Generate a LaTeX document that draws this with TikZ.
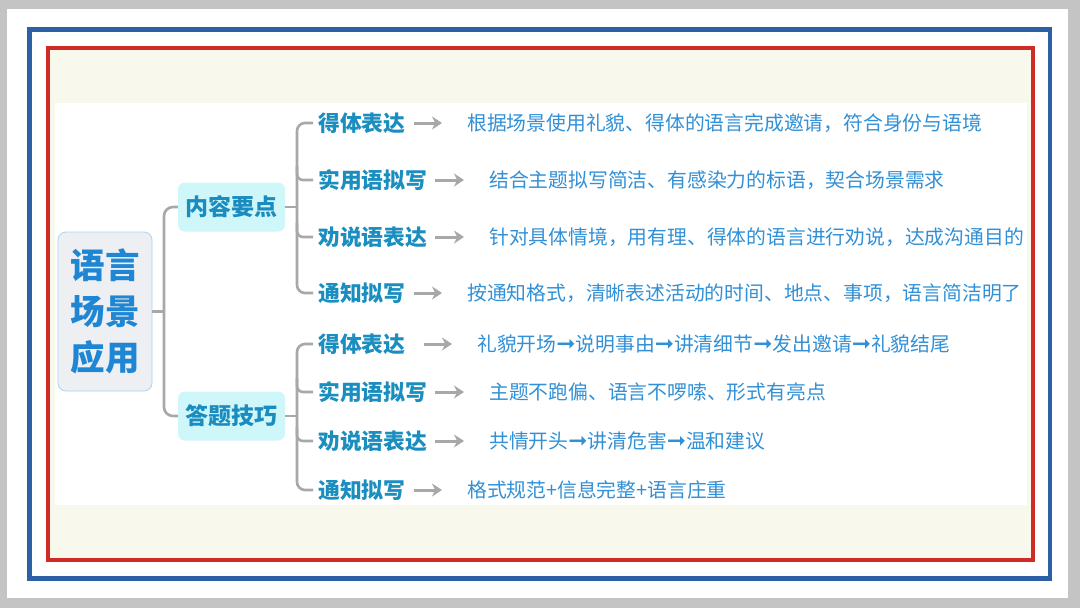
\documentclass[tikz,border=0pt]{standalone}
\usepackage{fontspec}
\setmainfont{Noto Sans CJK SC}
\newfontfamily\symf{DejaVu Sans}
\usetikzlibrary{arrows.meta}
\definecolor{pagegray}{HTML}{C4C4C4}
\definecolor{frameblue}{HTML}{2D5FA5}
\definecolor{framered}{HTML}{D12B26}
\definecolor{cream}{HTML}{F8F9EC}
\definecolor{connGray}{HTML}{A8A8A8}
\definecolor{rootfill}{HTML}{EDEFF2}
\definecolor{rootline}{HTML}{A9D5F2}
\definecolor{roottext}{HTML}{1F86D4}
\definecolor{lvfill}{HTML}{CFF7FA}
\definecolor{lvtext}{HTML}{1A8CC0}
\definecolor{labtext}{HTML}{1B8EC0}
\definecolor{desctext}{HTML}{3190D6}
\newcommand{\arr}{{\symf\fontsize{23}{22}\selectfont\bfseries ➞}}
\tikzset{
  conn/.style={draw=connGray, line width=2.6pt},
  rootbox/.style={draw=rootline, line width=0.8pt, fill=rootfill, rounded corners=8pt,
    minimum width=94pt, minimum height=159pt, inner sep=0pt, align=center,
    text=roottext, font=\fontsize{34.5}{46}\selectfont\bfseries},
  lvbox/.style={fill=lvfill, rounded corners=7pt, minimum width=107pt, minimum height=49pt,
    inner sep=0pt, text=lvtext, font=\fontsize{23}{26}\selectfont\bfseries},
  lab/.style={anchor=west, inner xsep=5pt, inner ysep=0pt, text=labtext,
    font=\fontsize{21.8}{24}\selectfont\bfseries},
  desc/.style={anchor=west, inner sep=0pt, text=desctext,
    font=\fontsize{19.8}{22}\selectfont},
  garrow/.style={draw=connGray, line width=3pt, -{Stealth[length=10pt,width=13pt]}}
}
\begin{document}
\begin{tikzpicture}[x=1pt,y=-1pt]
\useasboundingbox (0,0) rectangle (1080,608);
% page
\fill[pagegray] (0,0) rectangle (1080,608);
\fill[white] (7,9) rectangle (1068,598);
\draw[frameblue, line width=4.5pt] (29.5,29.5) rectangle (1050,578.5);
\draw[framered, line width=4.5pt] (48,48) rectangle (1033,560);
\fill[cream] (50.3,50.3) rectangle (1030.7,557.7);
\fill[white] (55,103) rectangle (1027,505);

% root and level 1
\node[rootbox] (root) at (105,311.5) {语言\\场景\\应用};
\node[lvbox] (k1) at (231.5,207) {内容要点};
\node[lvbox] (k2) at (231.5,416) {答题技巧};
\coordinate (j0) at (164,311.5);
\draw[conn] (root.east) -- (j0);
\draw[conn, rounded corners=9pt] (k1.west) -| (j0) |- (k2.west);

% group 1
\node[lab] (a1) at (313,123) {得体表达};
\node[lab] (a2) at (313,180) {实用语拟写};
\node[lab] (a3) at (313,237) {劝说语表达};
\node[lab] (a4) at (313,293) {通知拟写};
\node[desc] (d1) at (467,123) {根据场景使用礼貌、得体的语言完成邀请，符合身份与语境};
\node[desc] (d2) at (489,180) {结合主题拟写简洁、有感染力的标语，契合场景需求};
\node[desc] (d3) at (489,237) {针对具体情境，用有理、得体的语言进行劝说，达成沟通目的};
\node[desc] (d4) at (467,293) {按通知格式，清晰表述活动的时间、地点、事项，语言简洁明了};
\coordinate (j1) at (297,207);
\draw[conn] (k1.east) -- (j1);
\draw[conn, rounded corners=8pt] (a1.west) -| (j1) |- (a4.west);
\draw[conn, rounded corners=6pt] (a2.west) -| ([yshift=14pt]j1 |- a2.west);
\draw[conn, rounded corners=6pt] (a3.west) -| ([yshift=14pt]j1 |- a3.west);
\foreach \i in {1,2,3,4}{
  \draw[garrow] ([xshift=3pt]a\i.east) -- ([xshift=-25pt]d\i.west);
}

% group 2
\node[lab] (b1) at (313,344) {得体表达};
\node[lab] (b2) at (313,392) {实用语拟写};
\node[lab] (b3) at (313,441) {劝说语表达};
\node[lab] (b4) at (313,490) {通知拟写};
\node[desc] (e1) at (477,344) {礼貌开场\arr 说明事由\arr 讲清细节\arr 发出邀请\arr 礼貌结尾};
\node[desc] (e2) at (489,392) {主题不跑偏、语言不啰嗦、形式有亮点};
\node[desc] (e3) at (489,441) {共情开头\arr 讲清危害\arr 温和建议};
\node[desc] (e4) at (467,490) {格式规范+信息完整+语言庄重};
\coordinate (j2) at (297,416);
\draw[conn] (k2.east) -- (j2);
\draw[conn, rounded corners=8pt] (b1.west) -| (j2) |- (b4.west);
\draw[conn, rounded corners=6pt] (b2.west) -| ([yshift=14pt]j2 |- b2.west);
\draw[conn, rounded corners=6pt] (b3.west) -| ([yshift=14pt]j2 |- b3.west);
\draw[garrow] ([xshift=13pt]b1.east) -- ([xshift=-25pt]e1.west);
\foreach \i in {2,3,4}{
  \draw[garrow] ([xshift=3pt]b\i.east) -- ([xshift=-25pt]e\i.west);
}
\end{tikzpicture}
\end{document}
